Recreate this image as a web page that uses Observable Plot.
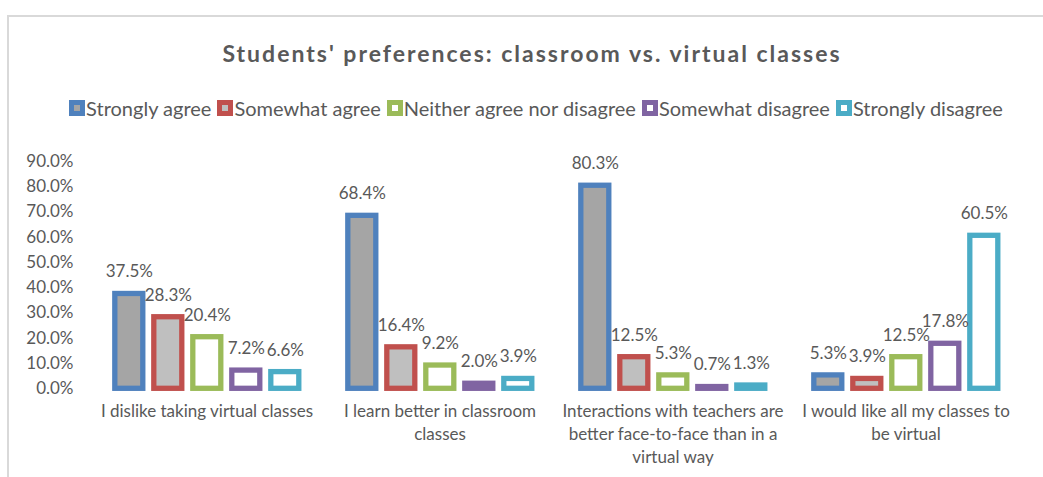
<!DOCTYPE html>
<html><head><meta charset="utf-8">
<script src="https://cdn.jsdelivr.net/npm/d3@7"></script>
<script src="https://cdn.jsdelivr.net/npm/@observablehq/plot@0.6"></script>
<style>
body{margin:0;background:#fff;font-family:Lato,sans-serif;width:1043px;height:477px;overflow:hidden;position:relative}
#frame{position:absolute;left:7px;top:15px;width:1100px;height:600px;border-left:2px solid #d9d9d9;border-top:2px solid #d9d9d9}
#title{position:absolute;top:38px;left:0;width:1064px;text-align:center;font-weight:bold;font-size:23px;color:#595959;letter-spacing:2px;line-height:30px}
#legend{position:absolute;top:96px;left:0;width:1072px;display:flex;justify-content:center;align-items:center;font-size:20px;color:#595959;line-height:24px}
.item{display:flex;align-items:center;margin-right:6px;white-space:nowrap}
.item:last-child{margin-right:0}
.sw{width:16px;height:16px;box-sizing:border-box;border:5px solid;margin-right:1px}
#chart{position:absolute;left:0;top:140px}
</style></head>
<body>
<div id="frame"></div>
<div id="title">Students' preferences: classroom vs. virtual classes</div>
<div id="legend"></div>
<div id="chart"></div>
<script>
const categories = [
  "I dislike taking virtual classes",
  "I learn better in classroom\nclasses",
  "Interactions with teachers are\nbetter face-to-face than in a\nvirtual way",
  "I would like all my classes to\nbe virtual"
];
const series = ["Strongly agree", "Somewhat agree", "Neither agree nor disagree", "Somewhat disagree", "Strongly disagree"];
const stronglyAgree = [37.5, 68.4, 80.3, 5.3];
const somewhatAgree = [28.3, 16.4, 12.5, 3.9];
const neitherAgree = [20.4, 9.2, 5.3, 12.5];
const somewhatDisagree = [7.2, 2.0, 0.7, 17.8];
const stronglyDisagree = [6.6, 3.9, 1.3, 60.5];
const yTicks = [0, 10, 20, 30, 40, 50, 60, 70, 80, 90];
const strokeColors = ["#4f81bd", "#c0504d", "#9bbb59", "#8064a2", "#4bacc6"];
const fillColors = ["#a5a5a5", "#bfbfbf", "#ffffff", "#ffffff", "#ffffff"];

const seriesValues = [stronglyAgree, somewhatAgree, neitherAgree, somewhatDisagree, stronglyDisagree];
const data = series.flatMap((s, i) => categories.map((c, j) => ({category: c, series: s, value: seriesValues[i][j]})));

// legend
const legend = document.getElementById("legend");
series.forEach((s, i) => {
  const it = document.createElement("div"); it.className = "item";
  const sw = document.createElement("div"); sw.className = "sw";
  sw.style.borderColor = strokeColors[i]; sw.style.background = fillColors[i];
  const t = document.createElement("span"); t.textContent = s;
  it.appendChild(sw); it.appendChild(t); legend.appendChild(it);
});

const pct = d => d.toFixed(1) + "%";
const chart = Plot.plot({
  width: 1043, height: 337,
  marginTop: 20.7, marginBottom: 88.7, marginLeft: 88.2, marginRight: 20,
  style: {fontFamily: "Lato, sans-serif", color: "#595959", background: "transparent"},
  fx: {domain: categories, padding: 0, label: null},
  x: {domain: series, paddingInner: 0.274, paddingOuter: 0.614, axis: null},
  y: {domain: [0, 90], label: null},
  color: {type: "identity"},
  marks: [
    Plot.axisY({ticks: yTicks, tickSize: 0, tickPadding: 17, tickFormat: pct, fontSize: 17, label: null, fill: "#595959"}),
    Plot.axisFx({anchor: "bottom", tickSize: 0, tickPadding: 12, fontSize: 17, lineHeight: 1.353, label: null, fill: "#595959"}),
    Plot.barY(data, {
      fx: "category", x: "series", y: "value",
      stroke: d => strokeColors[series.indexOf(d.series)],
      fill: d => fillColors[series.indexOf(d.series)],
      strokeWidth: 5.3
    }),
    Plot.text(data, {fx: "category", x: "series", y: "value", text: d => pct(d.value), dy: -22, fontSize: 17, fill: "#595959"})
  ]
});
document.getElementById("chart").appendChild(chart);
</script>
</body></html>
